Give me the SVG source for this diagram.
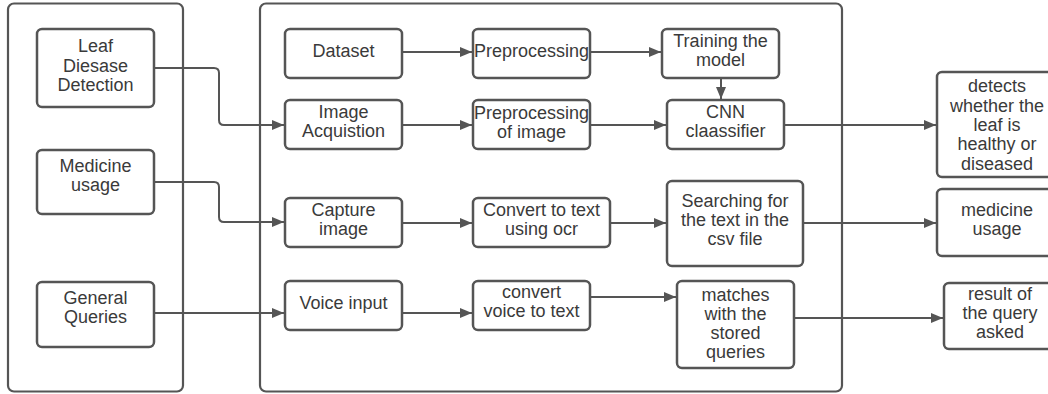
<svg xmlns="http://www.w3.org/2000/svg" width="1048" height="394" viewBox="0 0 1048 394">
<defs>
<marker id="ah" viewBox="0 0 12 10" refX="12" refY="5" markerWidth="12" markerHeight="10" markerUnits="userSpaceOnUse" orient="auto">
<path d="M0,0 L12,5 L0,10 z" fill="#555"/>
</marker>
<style>
.box{fill:#fff;stroke:#555;stroke-width:2.5}
.cont{fill:none;stroke:#555;stroke-width:2.2}
.t{font-family:"Liberation Sans",Arial,sans-serif;font-size:18px;fill:#3a3a3a;text-anchor:middle}
.ln{fill:none;stroke:#555;stroke-width:2}
.arr{fill:none;stroke:#555;stroke-width:2;marker-end:url(#ah)}
</style>
</defs>
<rect width="1048" height="394" fill="#fff"/>
<g id="containers">
<rect class="cont" x="8" y="3.5" width="175" height="388" rx="6"/>
<rect class="cont" x="260" y="3.5" width="582" height="388" rx="6"/>
</g>
<g id="connectors">
<path class="arr" d="M154,68 H214 Q219,68 219,73 V120 Q219,125 224,125 H284"/>
<path class="arr" d="M154,182 H214 Q219,182 219,187 V217 Q219,222 224,222 H284"/>
<path class="arr" d="M154,313 H284"/>
<path class="arr" d="M402,52 H472"/>
<path class="arr" d="M590,52 H661"/>
<path class="arr" d="M721,78 V99"/>
<path class="arr" d="M402,125 H472"/>
<path class="arr" d="M590,125 H666"/>
<path class="arr" d="M784,125 H936"/>
<path class="arr" d="M402,223 H472"/>
<path class="arr" d="M610,223 H666"/>
<path class="arr" d="M803,223 H936"/>
<path class="arr" d="M402,313 H472"/>
<path class="arr" d="M590,297 H676"/>
<path class="arr" d="M794,318 H943"/>
</g>
<g id="leaf">
<rect class="box" x="37" y="29" width="117" height="78" rx="5"/>
<text class="t" x="95.5" y="52">Leaf</text>
<text class="t" x="95.5" y="72">Diesase</text>
<text class="t" x="95.5" y="91">Detection</text>
</g>
<g id="medicine">
<rect class="box" x="37" y="150" width="117" height="64" rx="5"/>
<text class="t" x="95.5" y="172">Medicine</text>
<text class="t" x="95.5" y="191">usage</text>
</g>
<g id="general">
<rect class="box" x="37" y="282" width="117" height="65" rx="5"/>
<text class="t" x="95.5" y="304">General</text>
<text class="t" x="95.5" y="323">Queries</text>
</g>
<g id="dataset">
<rect class="box" x="285" y="29" width="117" height="49" rx="5"/>
<text class="t" x="343.5" y="57">Dataset</text>
</g>
<g id="preprocessing">
<rect class="box" x="473" y="29" width="117" height="49" rx="5"/>
<text class="t" x="531.5" y="57">Preprocessing</text>
</g>
<g id="training">
<rect class="box" x="662" y="29" width="117" height="49" rx="5"/>
<text class="t" x="720.5" y="47">Training the</text>
<text class="t" x="720.5" y="66">model</text>
</g>
<g id="acquisition">
<rect class="box" x="285" y="100" width="117" height="49" rx="5"/>
<text class="t" x="343.5" y="118">Image</text>
<text class="t" x="343.5" y="137">Acquistion</text>
</g>
<g id="preproc-image">
<rect class="box" x="473" y="100" width="117" height="49" rx="5"/>
<text class="t" x="531.5" y="119">Preprocessing</text>
<text class="t" x="531.5" y="138">of image</text>
</g>
<g id="cnn">
<rect class="box" x="667" y="100" width="117" height="49" rx="5"/>
<text class="t" x="725.5" y="118">CNN</text>
<text class="t" x="725.5" y="137">claassifier</text>
</g>
<g id="detects">
<rect class="box" x="937" y="72" width="120" height="105" rx="5"/>
<text class="t" x="997" y="92">detects</text>
<text class="t" x="997" y="112">whether the</text>
<text class="t" x="997" y="131">leaf is</text>
<text class="t" x="997" y="150">healthy or</text>
<text class="t" x="997" y="170">diseased</text>
</g>
<g id="capture">
<rect class="box" x="285" y="198" width="117" height="49" rx="5"/>
<text class="t" x="343.5" y="216">Capture</text>
<text class="t" x="343.5" y="235">image</text>
</g>
<g id="ocr">
<rect class="box" x="473" y="198" width="137" height="49" rx="5"/>
<text class="t" x="541.5" y="216">Convert to text</text>
<text class="t" x="541.5" y="235">using ocr</text>
</g>
<g id="searching">
<rect class="box" x="667" y="181" width="136" height="85" rx="5"/>
<text class="t" x="735" y="207">Searching for</text>
<text class="t" x="735" y="226">the text in the</text>
<text class="t" x="735" y="245">csv file</text>
</g>
<g id="med-usage">
<rect class="box" x="937" y="189" width="120" height="67" rx="5"/>
<text class="t" x="997" y="216">medicine</text>
<text class="t" x="997" y="235">usage</text>
</g>
<g id="voice">
<rect class="box" x="285" y="281" width="117" height="49" rx="5"/>
<text class="t" x="343.5" y="309">Voice input</text>
</g>
<g id="voice-text">
<rect class="box" x="473" y="281" width="117" height="49" rx="5"/>
<text class="t" x="531.5" y="298">convert</text>
<text class="t" x="531.5" y="317">voice to text</text>
</g>
<g id="matches">
<rect class="box" x="677" y="281" width="117" height="87" rx="5"/>
<text class="t" x="735.5" y="301">matches</text>
<text class="t" x="735.5" y="320">with the</text>
<text class="t" x="735.5" y="339">stored</text>
<text class="t" x="735.5" y="358">queries</text>
</g>
<g id="result">
<rect class="box" x="944" y="283" width="114" height="66" rx="5"/>
<text class="t" x="1000" y="300">result of</text>
<text class="t" x="1000" y="319">the query</text>
<text class="t" x="1000" y="338">asked</text>
</g>
</svg>
